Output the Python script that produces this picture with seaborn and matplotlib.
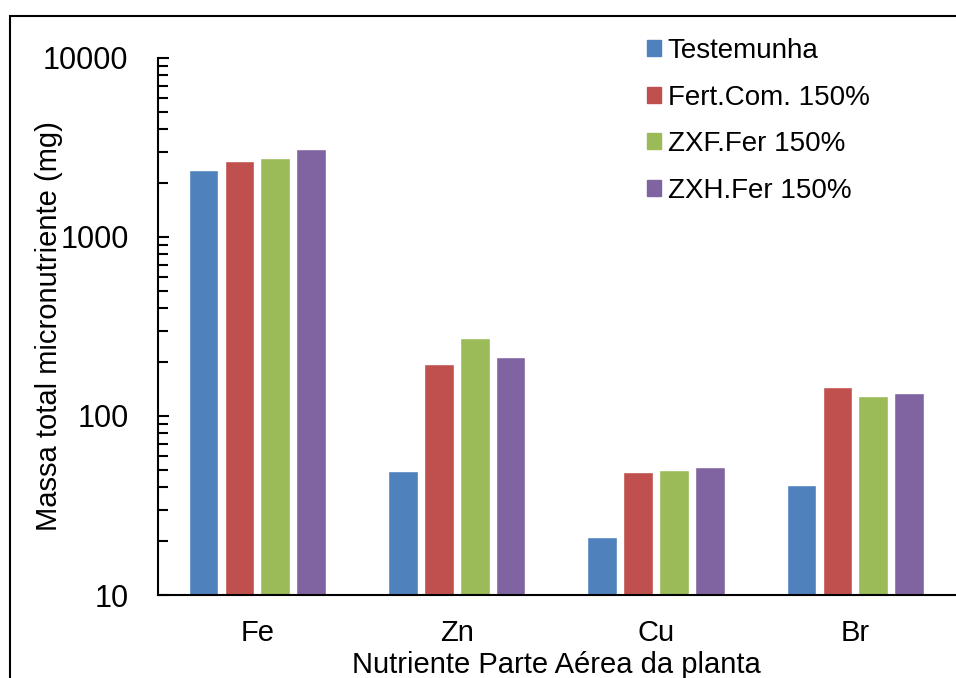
import numpy as np
import pandas as pd
import matplotlib
matplotlib.use("Agg")
import matplotlib.pyplot as plt
from matplotlib.patches import Patch, Rectangle
from matplotlib.ticker import FixedLocator, LogLocator, NullFormatter
import seaborn as sns

# data
nutrients = ["Fe", "Zn", "Cu", "Br"]
treatments = ["Testemunha", "Fert.Com. 150%", "ZXF.Fer 150%", "ZXH.Fer 150%"]
testemunha = [2370, 49.3, 21.1, 41.2]
fert_com = [2660, 195, 48.6, 145]
zxf_fer = [2760, 273, 49.9, 129]
zxh_fer = [3100, 214, 51.9, 134]
colors = ["#4F81BD", "#C0504D", "#9BBB59", "#8064A2"]

values = [testemunha, fert_com, zxf_fer, zxh_fer]
rows = []
for t, vals in zip(treatments, values):
    for n, v in zip(nutrients, vals):
        rows.append({"Nutriente": n, "Tratamento": t, "Massa": v})
df = pd.DataFrame(rows)

sns.set_style("white")
plt.rcParams["font.family"] = ["Liberation Sans", "DejaVu Sans"]
for k in ["text.color", "axes.labelcolor", "xtick.color", "ytick.color"]:
    plt.rcParams[k] = "black"

fig = plt.figure(figsize=(9.56, 6.78), dpi=100)
ax = fig.add_axes([0.165, 0.1224, 0.834, 0.7922])

sns.barplot(data=df, x="Nutriente", y="Massa", hue="Tratamento",
            hue_order=treatments, palette=colors, width=0.72, gap=0.17,
            saturation=1, legend=False, ax=ax)

ax.set_yscale("log")
ax.set_ylim(10, 10000)
ax.set_xlim(-0.5, 3.5)
ax.yaxis.set_major_locator(FixedLocator([10, 100, 1000, 10000]))
ax.set_yticklabels(["10", "100", "1000", "10000"])
ax.yaxis.set_minor_locator(LogLocator(base=10, subs=np.arange(2, 10)))
ax.yaxis.set_minor_formatter(NullFormatter())
ax.tick_params(axis="y", which="both", left=True, direction="in", width=1.5)
ax.tick_params(axis="y", which="major", length=8, labelsize=22, pad=21)
ax.tick_params(axis="y", which="minor", length=7)
ax.tick_params(axis="x", length=0, labelsize=21, pad=17)

for s in ["top", "right"]:
    ax.spines[s].set_visible(False)
for s in ["left", "bottom"]:
    ax.spines[s].set_color("black")
    ax.spines[s].set_linewidth(1.5)

ax.set_xlabel("Nutriente Parte Aérea da planta", fontsize=21, labelpad=3)
ax.set_ylabel("Massa total micronutriente (mg)", fontsize=21)
ax.yaxis.set_label_coords(-0.119, 0.5)

handles = [Patch(facecolor=c, edgecolor=c) for c in colors]
ax.legend(handles, treatments, loc="upper left", bbox_to_anchor=(0.6136, 1.037),
          frameon=False, fontsize=20, handletextpad=0.25, handlelength=0.5,
          handleheight=0.5, labelspacing=0.74, borderpad=0, borderaxespad=0)

fig.patches.append(Rectangle((10 / 956, -0.1), 1.2, 1.1 - 16 / 678,
                             transform=fig.transFigure, fill=False,
                             edgecolor="black", linewidth=1.5))

fig.savefig("out.png", dpi=100)
